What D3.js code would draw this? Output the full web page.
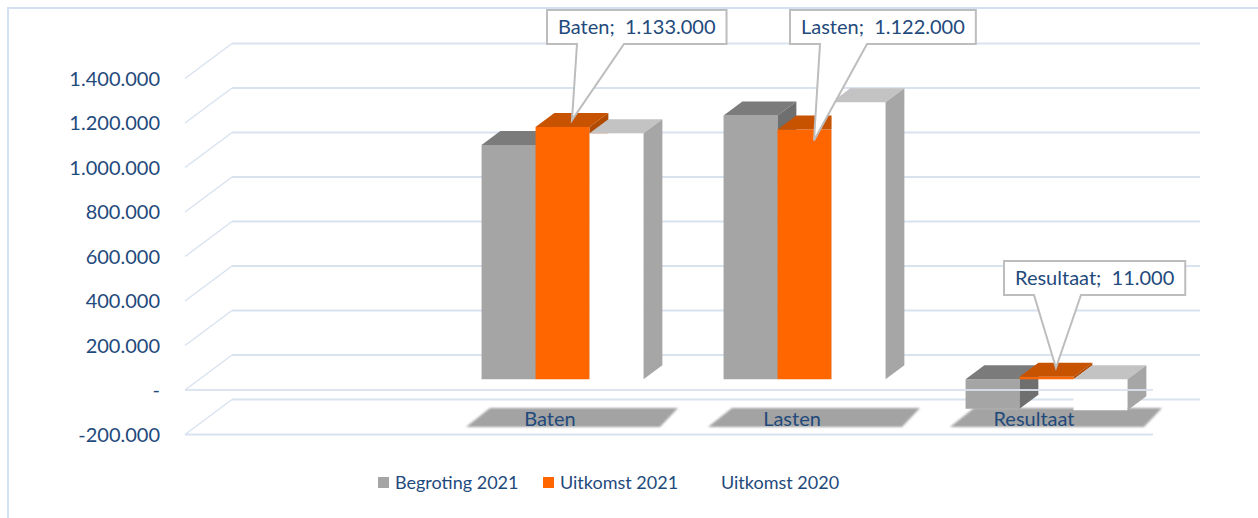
<!DOCTYPE html>
<html>
<head>
<meta charset="utf-8">
<script src="https://cdn.jsdelivr.net/npm/d3@7"></script>
<style>
  html, body { margin: 0; padding: 0; background: #ffffff; }
  svg { display: block; }
  text { font-family: Lato, "Open Sans", sans-serif; fill: #1f4a7c; }
</style>
</head>
<body>
<svg id="chart" width="1258" height="518"></svg>
<script>
// ---------- data ----------
const categories = ["", "Baten", "Lasten", "Resultaat"];
const seriesNames = ["Begroting 2021", "Uitkomst 2021", "Uitkomst 2020"];
const begroting2021 = [null, 1052000, 1185000, -133000];
const uitkomst2021  = [null, 1133000, 1122000, 11000];
const uitkomst2020  = [null, 1105000, 1245000, -140000];
const yTicks = [-200000, 0, 200000, 400000, 600000, 800000, 1000000, 1200000, 1400000];
const labelledSeries = "Uitkomst 2021";

// ---------- styles / layout ----------
const seriesValues = [begroting2021, uitkomst2021, uitkomst2020];
const colors = {
  "Begroting 2021": {front: "#a5a5a5", top: "#7b7b7b", side: "#6f6f6f", legend: "#a5a5a5"},
  "Uitkomst 2021":  {front: "#ff6600", top: "#c75300", side: "#b04a00", legend: "#ff6600"},
  "Uitkomst 2020":  {front: "#ffffff", top: "#c3c3c3", side: "#a6a6a6", legend: "#ffffff"}
};
const gridColor = "#d9e3f0";
const depth = {dx: 47, dy: -35};
const barDepth = [0.31, 0.71];
const calloutLayout = {
  "Baten":     {left: 547,  top: 10,  tipDy: 0},
  "Lasten":    {left: 790,  top: 10,  tipDy: 18},
  "Resultaat": {left: 1004, top: 261, tipDy: -2}
};

const locale = d3.formatLocale({decimal: ",", thousands: ".", grouping: [3], currency: ["", ""], minus: "-"});
const fmt = locale.format(",.0f");
const tickFmt = v => v === 0 ? "-" : fmt(v);

const svg = d3.select("#chart");

const x = d3.scaleBand().domain(categories).range([185, 1153]);
const xs = d3.scaleBand().domain(seriesNames).range([40, 202]);
const y = d3.scaleLinear().domain([-200000, 1400000]).range([434.5, 78.5]);

const P = (xf, v, f) => [xf + depth.dx * f, y(v) + depth.dy * f];
const poly = pts => "M" + pts.map(p => p.join(",")).join("L") + "Z";

// chart border
svg.append("rect").attr("x", 8).attr("y", 8).attr("width", 1300).attr("height", 600)
  .attr("fill", "none").attr("stroke", "#d3e0f1").attr("stroke-width", 2);

const defs = svg.append("defs");
defs.append("filter").attr("id", "blur").attr("x", "-10%").attr("y", "-50%").attr("width", "120%").attr("height", "200%")
  .append("feGaussianBlur").attr("stdDeviation", 1.3);

// gridlines: back wall + left wall
const [x0, x1] = x.range();
const grid = svg.append("g");
yTicks.forEach(v => {
  const a = P(x0, v, 1), b = P(x1, v, 1), c = P(x0, v, 0);
  grid.append("line").attr("x1", a[0]).attr("y1", a[1]).attr("x2", b[0]).attr("y2", b[1])
    .attr("stroke", gridColor).attr("stroke-width", 2);
  grid.append("line").attr("x1", c[0]).attr("y1", c[1]).attr("x2", a[0]).attr("y2", a[1])
    .attr("stroke", gridColor).attr("stroke-width", 1.5);
});
// floor (-200.000) front edge
{
  const a = P(x0, -200000, 0), b = P(x1, -200000, 0);
  grid.append("line").attr("x1", a[0]).attr("y1", a[1]).attr("x2", b[0]).attr("y2", b[1])
    .attr("stroke", gridColor).attr("stroke-width", 2);
}

// y axis labels
svg.append("g").selectAll("text").data(yTicks).join("text")
  .attr("x", 160).attr("y", d => y(d)).attr("dy", "0.35em")
  .attr("text-anchor", "end").attr("font-size", 20)
  .text(tickFmt);

// category label plates (shadow)
const cats = categories.filter(c => c !== "");
svg.append("g").selectAll("path").data(cats).join("path")
  .attr("d", c => {
    const m = x(c) + x.bandwidth() / 2;
    return poly([[m - 58, 408], [m + 130, 408], [m + 112, 427], [m - 82, 427]]);
  })
  .attr("fill", "#a3a3a3").attr("filter", "url(#blur)");

// bars
const bars = svg.append("g");
categories.forEach((cat, ci) => {
  seriesNames.forEach((s, si) => {
    const v = seriesValues[si][ci];
    if (v === null) return;
    const xl = x(cat) + xs(s), xr = xl + xs.bandwidth();
    const vt = Math.max(0, v), vb = Math.min(0, v);
    const [f0, f1] = barDepth;
    const col = colors[s];
    bars.append("path").attr("d", poly([P(xl, vt, f0), P(xr, vt, f0), P(xr, vb, f0), P(xl, vb, f0)]))
      .attr("fill", col.front);
    bars.append("path").attr("d", poly([P(xl, vt, f0), P(xr, vt, f0), P(xr, vt, f1), P(xl, vt, f1)]))
      .attr("fill", col.top);
    bars.append("path").attr("d", poly([P(xr, vt, f0), P(xr, vt, f1), P(xr, vb, f1), P(xr, vb, f0)]))
      .attr("fill", col.side);
  });
});

// zero plane front edge (drawn over negative bars)
{
  const a = P(x0, 0, 0), b = P(x1, 0, 0);
  svg.append("line").attr("x1", a[0]).attr("y1", a[1]).attr("x2", b[0]).attr("y2", b[1])
    .attr("stroke", gridColor).attr("stroke-width", 2).attr("opacity", 0.9);
}

// category labels
svg.append("g").selectAll("text").data(cats).join("text")
  .attr("x", c => x(c) + x.bandwidth() / 2 + 2).attr("y", 419).attr("dy", "0.35em")
  .attr("text-anchor", "middle").attr("font-size", 20)
  .text(c => c);

// callouts for labelled series
const li = seriesNames.indexOf(labelledSeries);
const callouts = svg.append("g");
categories.forEach((cat, ci) => {
  const v = seriesValues[li][ci];
  if (v === null) return;
  const lay = calloutLayout[cat];
  const xl = x(cat) + xs(labelledSeries);
  const tip = P(xl + xs.bandwidth() / 2, Math.max(0, v), (barDepth[0] + barDepth[1]) / 2);
  tip[1] += lay.tipDy;
  const g = callouts.append("g");
  const t = g.append("text").attr("font-size", 20).style("white-space", "pre")
    .attr("text-anchor", "middle")
    .text(`${cat};  ${fmt(v)}`);
  const tw = t.node().getComputedTextLength();
  const w = tw + 22, h = 34;
  const L = lay.left, T = lay.top, R = L + w, B = T + h;
  const b0 = L + 30, b1 = L + 77;
  g.insert("path", "text").attr("d",
      `M${L},${T}L${R},${T}L${R},${B}L${b1},${B}L${tip[0]},${tip[1]}L${b0},${B}L${L},${B}Z`)
    .attr("fill", "#ffffff").attr("stroke", "#bdbdbd").attr("stroke-width", 2)
    .attr("stroke-linejoin", "miter");
  t.attr("x", L + w / 2).attr("y", T + h / 2).attr("dy", "0.35em");
});

// legend
const legendX = [378, 543, 704];
const lg = svg.append("g");
seriesNames.forEach((s, i) => {
  lg.append("rect").attr("x", legendX[i]).attr("y", 477).attr("width", 11).attr("height", 11)
    .attr("fill", colors[s].legend);
  lg.append("text").attr("x", legendX[i] + 17).attr("y", 483).attr("dy", "0.35em")
    .attr("font-size", 18).text(s);
});
</script>
</body>
</html>
